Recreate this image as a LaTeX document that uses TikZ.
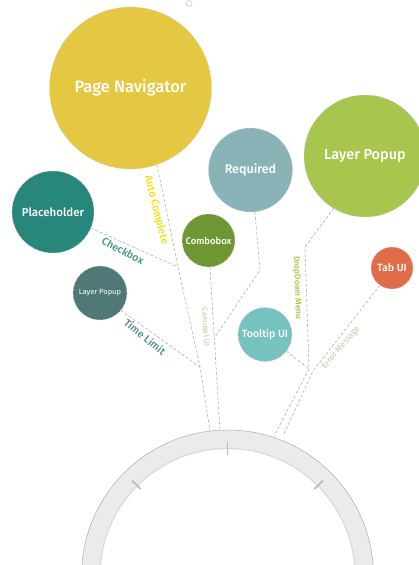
\documentclass[tikz,border=0pt]{standalone}
\usepackage{fontspec}
\setmainfont{Fira Sans}[BoldFont={Fira Sans Medium}]
\usetikzlibrary{calc}
\definecolor{cpn}{HTML}{E5C842}
\definecolor{crq}{HTML}{8AB3B7}
\definecolor{clpb}{HTML}{A8C64E}
\definecolor{cph}{HTML}{27877A}
\definecolor{ccb}{HTML}{6E9632}
\definecolor{clps}{HTML}{4F7876}
\definecolor{ctt}{HTML}{76C2BE}
\definecolor{ctab}{HTML}{DE6D48}
\definecolor{lauto}{HTML}{F8E000}
\definecolor{lcheck}{HTML}{3C9682}
\definecolor{ltime}{HTML}{4F8C8A}
\definecolor{lcar}{HTML}{C8BEA0}
\definecolor{ldrop}{HTML}{A8C64E}
\definecolor{lerr}{HTML}{C8C3AA}
\begin{document}
\begin{tikzpicture}[x=1pt,y=-1pt,
  bub/.style={circle, draw=black!20, densely dashed, line width=0.5pt, text=white, inner sep=0pt, outer sep=0pt, align=center},
  con/.style={draw=black!28, line width=0.7pt, dash pattern=on 3pt off 2pt},
  lbl/.style={inner sep=0pt, font=\fontsize{10.5}{12}\selectfont\bfseries},
  slbl/.style={inner sep=0pt},
  tickmark/.style={draw=black!28, line width=1.6pt}
]
\useasboundingbox (0,0) rectangle (418,565);

% ring
\coordinate (rc) at (227.5,576);
\fill[black!8, even odd rule] (rc) circle[radius=146pt] (rc) circle[radius=127pt];
\draw[black!32, line width=0.5pt] (rc) circle[radius=146pt];
\draw[black!14, line width=1.2pt] (rc) circle[radius=127.6pt];
\draw[tickmark] ($(rc)+(90:121pt)$) -- ($(rc)+(90:134pt)$);
\draw[tickmark] ($(rc)+(135:123pt)$) -- ($(rc)+(135:135pt)$);
\draw[tickmark] ($(rc)+(45:123pt)$) -- ($(rc)+(45:135pt)$);

% tiny ring at top
\node[circle, draw=black!15, line width=1pt, minimum size=6pt, inner sep=0pt] (dot) at (189,3.5) {};

% bubbles
\node[bub, fill=cpn, minimum size=162pt, font=\fontsize{16.5}{18}\selectfont\bfseries] (pn) at (130.5,88) {Page Navigator};
\node[bub, fill=crq, minimum size=84pt, font=\fontsize{12.5}{14}\selectfont\bfseries] (rq) at (250.5,170) {Required};
\node[bub, fill=clpb, minimum size=122pt, font=\fontsize{14.5}{16}\selectfont\bfseries] (lpb) at (365,156) {Layer Popup};
\node[bub, fill=cph, minimum size=82pt, font=\fontsize{11.5}{14}\selectfont\bfseries] (ph) at (53,212) {Placeholder};
\node[bub, fill=ccb, minimum size=53pt, font=\fontsize{9.5}{11}\selectfont\bfseries] (cb) at (208.5,240.5) {Combobox};
\node[bub, fill=clps, minimum size=54pt, font=\fontsize{7.5}{9}\selectfont] (lps) at (100,293) {Layer Popup};
\node[bub, fill=ctt, minimum size=54pt, font=\fontsize{10.5}{12}\selectfont\bfseries] (tt) at (265,334.5) {Tooltip UI};
\node[bub, fill=ctab, minimum size=42pt, font=\fontsize{10.5}{12}\selectfont\bfseries] (tab) at (392,268) {Tab UI};

% junctions
\coordinate (ja) at (178,267);
\coordinate (jb) at (200,367);
\coordinate (ra) at (210,431);
\coordinate (rb) at (220,431);
\coordinate (jc) at (260,270);
\coordinate (jd) at (215,337);
\coordinate (je) at (305,247);
\coordinate (jf) at (309,369);
\coordinate (jg) at (313,371);
\coordinate (rd) at (274,436);
\coordinate (re) at (283,436);

% connectors
\draw[con] (pn.-71) -- (ja) -- (jb) -- (ra);
\draw[con] (ph.-23) -- (ja);
\draw[con] (lps.-40) -- (jb);
\draw[con] (cb.-87) -- (rb);
\draw[con] (rq.-84) -- (jc) -- (jd);
\draw[con] (lpb.-121) -- (je) -- (jf) -- (rd);
\draw[con] (tt.-38) -- (jf);
\draw[con] (tab.-125) -- (jg) -- (re);

% labels
\node[lbl, text=lauto, rotate=-76] (lauto) at (156,210) {Auto Complete};
\node[lbl, text=lcheck, rotate=-28] (lcheck) at (123,251) {Checkbox};
\node[lbl, text=ltime, rotate=-39] (ltime) at (145,337) {Time Limit};
\node[slbl, text=lcar, rotate=-87, font=\fontsize{7.5}{8}\selectfont] (lcar) at (206,327) {Carousel UI};
\node[slbl, text=ldrop, rotate=-88, font=\fontsize{8.5}{9}\selectfont\bfseries] (ldrop) at (297,288) {DropDown Menu};
\node[slbl, text=lerr, rotate=50, font=\fontsize{8.5}{9}\selectfont] (lerr) at (341,348) {Error Message};
\end{tikzpicture}
\end{document}
